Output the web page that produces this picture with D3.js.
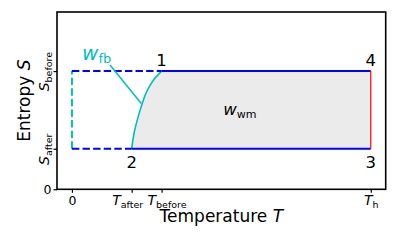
<!DOCTYPE html>
<html>
<head>
<meta charset="utf-8">
<script src="https://cdn.jsdelivr.net/npm/d3@7"></script>
<style>
  body { margin: 0; background: #fff; }
  svg text { font-family: "DejaVu Sans", sans-serif; }
</style>
</head>
<body>
<svg id="chart"></svg>
<script>
// state values (T in units of T_h, S in arbitrary units)
const T_after = 0.2, T_before = 0.3, T_h = 1;
const S_after = 1.03, S_before = 3.0;

// w_fb curve from point 2 to point 1
const fbT = [0.200, 0.2089, 0.2202, 0.2336, 0.2502, 0.2725, 0.300];
const fbS = [1.03, 1.46, 1.80, 2.14, 2.48, 2.77, 3.00];

const xTicks = [0, T_after, T_before, T_h];
const xTickMain = ['0', 'T', 'T', 'T'];
const xTickSub = ['', 'after', 'before', 'h'];
const yTicks = [0, S_after, S_before];
const yTickMain = ['0', 'S', 'S'];
const yTickSub = ['', 'after', 'before'];

const pointNames = ['1', '2', '3', '4'];
const pointT = [T_before, T_after, T_h, T_h];
const pointS = [S_before, S_after, S_after, S_before];

// annotation for w_fb (label anchor and pointer line)
const fbLabelAt = [0.034, 3.28];
const fbPointer = [[0.1275, 3.155], [0.232, 2.18]];
const wmLabelAt = [0.506, 1.88];

const width = 399, height = 247;
const margin = { top: 12, right: 13.3, bottom: 57.7, left: 57 };
const innerWidth = width - margin.left - margin.right;
const innerHeight = height - margin.top - margin.bottom;

const svg = d3.select('svg#chart')
  .attr('width', width)
  .attr('height', height);

const g = svg.append('g')
  .attr('transform', `translate(${margin.left}, ${margin.top})`);

const x = d3.scaleLinear().domain([-0.05, 1.05]).range([0, innerWidth]);
const y = d3.scaleLinear().domain([0, 4.5]).range([innerHeight, 0]);

const fbPoints = fbT.map((t, i) => [t, fbS[i]]);
const curveGen = d3.line()
  .x(d => x(d[0]))
  .y(d => y(d[1]))
  .curve(d3.curveMonotoneY);

// grey work area 1-2-3-4
g.append('path')
  .attr('d', curveGen(fbPoints) +
    `L${x(T_h)},${y(S_before)}L${x(T_h)},${y(S_after)}Z`)
  .attr('fill', '#ebebeb')
  .attr('stroke', 'none');

const seg = (t0, s0, t1, s1) => g.append('line')
  .attr('x1', x(t0)).attr('y1', y(s0))
  .attr('x2', x(t1)).attr('y2', y(s1));

// cyan dashed at T = 0
seg(0, S_after, 0, S_before)
  .attr('stroke', '#00bfbf').attr('stroke-width', 2)
  .attr('stroke-dasharray', '7.4,3.2');

// w_fb curve
g.append('path')
  .attr('d', curveGen(fbPoints))
  .attr('fill', 'none')
  .attr('stroke', '#00bfbf')
  .attr('stroke-width', 1.6);

// blue isentropes
seg(0, S_before, T_before, S_before)
  .attr('stroke', '#0000ff').attr('stroke-width', 2)
  .attr('stroke-dasharray', '7.4,3.2');
seg(0, S_after, T_after, S_after)
  .attr('stroke', '#0000ff').attr('stroke-width', 2)
  .attr('stroke-dasharray', '7.4,3.2');
seg(T_before, S_before, T_h, S_before)
  .attr('stroke', '#0000ff').attr('stroke-width', 2);
seg(T_after, S_after, T_h, S_after)
  .attr('stroke', '#0000ff').attr('stroke-width', 2);

// red isotherm at T_h
seg(T_h, S_after, T_h, S_before)
  .attr('stroke', '#ff0000').attr('stroke-width', 1.2);

// pointer line for w_fb
seg(fbPointer[0][0], fbPointer[0][1], fbPointer[1][0], fbPointer[1][1])
  .attr('stroke', '#00bfbf').attr('stroke-width', 1.5);

const wfb = g.append('text')
  .attr('x', x(fbLabelAt[0])).attr('y', y(fbLabelAt[1]))
  .attr('fill', '#00bfbf');
wfb.append('tspan').attr('font-style', 'italic').attr('font-size', 20).text('w');
wfb.append('tspan').attr('font-size', 13).attr('dy', 3).text('fb');

const wwm = g.append('text')
  .attr('x', x(wmLabelAt[0])).attr('y', y(wmLabelAt[1]))
  .attr('fill', '#000');
wwm.append('tspan').attr('font-style', 'italic').attr('font-size', 16.5).text('w');
wwm.append('tspan').attr('font-size', 11).attr('dy', 2.5).text('wm');

// numbered corner labels
g.selectAll('.pt-label').data(pointNames)
  .enter().append('text')
  .attr('class', 'pt-label')
  .attr('x', (d, i) => x(pointT[i]))
  .attr('y', (d, i) => y(pointS[i]) + (pointS[i] === S_before ? -5.5 : 19.5))
  .attr('text-anchor', 'middle')
  .attr('font-size', 16.5)
  .text(d => d);

// frame
g.append('rect')
  .attr('width', innerWidth).attr('height', innerHeight)
  .attr('fill', 'none').attr('stroke', '#000').attr('stroke-width', 1.6);

// x axis (labels nudged like matplotlib's mathtext boxes)
const xLabelShift = [0, -4.5, 5, 0];
const xAxisG = g.append('g')
  .attr('transform', `translate(0, ${innerHeight})`)
  .call(d3.axisBottom(x).tickValues(xTicks).tickSize(3.5).tickFormat(''));
xAxisG.select('.domain').remove();
xAxisG.selectAll('.tick text').remove();
xAxisG.selectAll('.tick line').attr('stroke-width', 1.2);
xAxisG.selectAll('.tick').each(function (d, i) {
  const t = d3.select(this).append('text')
    .attr('x', xLabelShift[i])
    .attr('y', 15.8).attr('fill', '#000')
    .attr('text-anchor', 'middle');
  if (xTickSub[i]) {
    t.append('tspan').attr('font-style', 'italic').attr('font-size', 14).text(xTickMain[i]);
    t.append('tspan').attr('font-size', 9.5).attr('dy', 3).text(xTickSub[i]);
  } else {
    t.attr('font-size', 12.5).text(xTickMain[i]);
  }
});

// y axis
const yAxisG = g.append('g')
  .call(d3.axisLeft(y).tickValues(yTicks).tickSize(3.5).tickFormat(''));
yAxisG.select('.domain').remove();
yAxisG.selectAll('.tick text').remove();
yAxisG.selectAll('.tick line').attr('stroke-width', 1.2);
yAxisG.selectAll('.tick').each(function (d, i) {
  const tick = d3.select(this);
  if (yTickSub[i]) {
    const t = tick.append('text')
      .attr('transform', 'translate(-8.5, 0) rotate(-90)')
      .attr('text-anchor', 'middle').attr('fill', '#000');
    t.append('tspan').attr('font-style', 'italic').attr('font-size', 14).text(yTickMain[i]);
    t.append('tspan').attr('font-size', 9.5).attr('dy', 3).text(yTickSub[i]);
  } else {
    tick.append('text')
      .attr('x', -5.5).attr('dy', '0.36em')
      .attr('text-anchor', 'end').attr('fill', '#000')
      .attr('font-size', 12.5).text(yTickMain[i]);
  }
});

// axis labels
const xLabel = g.append('text')
  .attr('x', innerWidth / 2).attr('y', innerHeight + 33)
  .attr('text-anchor', 'middle').attr('font-size', 17);
xLabel.append('tspan').text('Temperature ');
xLabel.append('tspan').attr('font-style', 'italic').text('T');

const yLabel = g.append('text')
  .attr('transform', `translate(-27, ${innerHeight / 2}) rotate(-90)`)
  .attr('text-anchor', 'middle').attr('font-size', 17);
yLabel.append('tspan').text('Entropy ');
yLabel.append('tspan').attr('font-style', 'italic').text('S');
</script>
</body>
</html>
